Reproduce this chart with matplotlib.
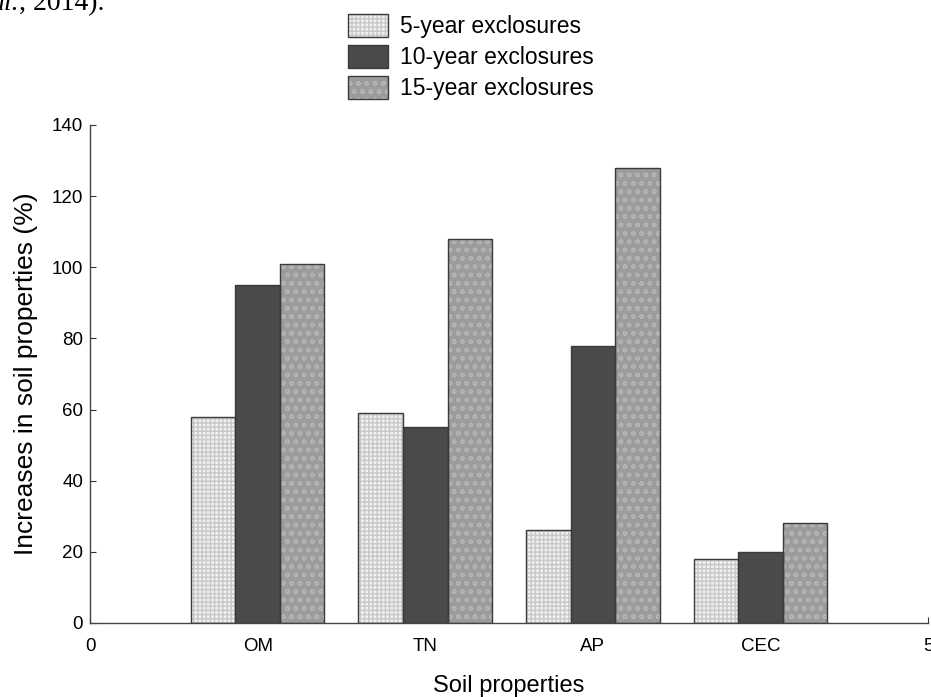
import matplotlib
matplotlib.use("Agg")
import matplotlib.pyplot as plt
from matplotlib.patches import Patch
from matplotlib.legend_handler import HandlerTuple
import numpy as np

plt.rcParams['font.family'] = ['Liberation Sans', 'DejaVu Sans']

properties = ["OM", "TN", "AP", "CEC"]
series_names = ["5-year exclosures", "10-year exclosures", "15-year exclosures"]
five_year = [58, 59, 26, 18]
ten_year = [95, 55, 78, 20]
fifteen_year = [101, 108, 128, 28]
x_tick_labels = ["0", "OM", "TN", "AP", "CEC", "5"]

styles = [
    dict(face="#f0f0f0", hatch="++++", hcol="#c8c8c8"),
    dict(face="#4a4a4a", hatch="", hcol="#4a4a4a"),
    dict(face="#9c9c9c", hatch="oo", hcol="#b4b4b4"),
]
outline = "#3a3a3a"

fig = plt.figure(figsize=(9.31, 6.97), dpi=100)
ax = fig.add_axes([0.0967, 0.1062, 0.9001, 0.7145])

pos = np.arange(1, len(properties) + 1)
width = 0.266
handles = []
for i, (vals, st) in enumerate(zip([five_year, ten_year, fifteen_year], styles)):
    xs = pos + (i - 1) * width
    ax.bar(xs, vals, width, color=st["face"], hatch=st["hatch"],
           edgecolor=st["hcol"], linewidth=0, zorder=2)
    ax.bar(xs, vals, width, fill=False, edgecolor=outline, linewidth=1.0, zorder=3)
    h_fill = Patch(facecolor=st["face"], hatch=st["hatch"], edgecolor=st["hcol"], linewidth=0)
    h_edge = Patch(fill=False, edgecolor=outline, linewidth=1.0)
    handles.append((h_fill, h_edge))

ax.set_xlim(0, 5)
ax.set_ylim(0, 140)
ax.set_xticks(range(6))
ax.set_xticklabels(x_tick_labels)
ax.set_yticks(range(0, 141, 20))
ax.tick_params(direction="in", labelsize=13.5, length=4, color="#333333")
ax.tick_params(axis="x", pad=11)
ax.tick_params(axis="y", pad=5)
for s in ["top", "right"]:
    ax.spines[s].set_visible(False)
for s in ["left", "bottom"]:
    ax.spines[s].set_color("#444444")
    ax.spines[s].set_linewidth(1.0)

ax.set_xlabel("Soil properties", fontsize=17, labelpad=14)
ax.set_ylabel("Increases in soil properties (%)", fontsize=19, labelpad=10)

fig.legend(handles, series_names, handler_map={tuple: HandlerTuple(ndivide=1, pad=0)},
           loc="upper left", bbox_to_anchor=(348 / 931, 1 - 14 / 697), frameon=False,
           borderpad=0, borderaxespad=0,
           fontsize=16.5, handlelength=1.75, handleheight=1.15, labelspacing=0.3,
           handletextpad=0.5)

# running citation text along the top edge
fig.canvas.draw()
renderer = fig.canvas.get_renderer()
y_base = 1 - 10 / 697
t1 = fig.text(-10 / 931, y_base, "al.", fontsize=20, family=["Liberation Serif"],
              style="italic", va="baseline", ha="left")
bb = t1.get_window_extent(renderer)
fig.text(bb.x1 / fig.bbox.width, y_base, ", 2014).", fontsize=20,
         family=["Liberation Serif"], va="baseline", ha="left")

fig.savefig("out.png", dpi=100)
